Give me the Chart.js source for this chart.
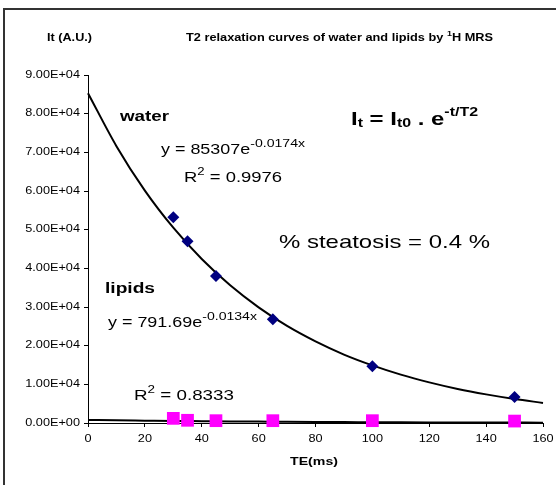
<!DOCTYPE html>
<html>
<head>
<meta charset="utf-8">
<script src="https://cdn.jsdelivr.net/npm/chart.js@4/dist/chart.umd.min.js"></script>
<style>
html,body{margin:0;padding:0;background:#fff;}
#wrap{width:556px;height:485px;position:relative;}
</style>
</head>
<body>
<div id="wrap"><canvas id="c" width="556" height="485"></canvas></div>
<script>
// ---- data ----
const waterTE = [30, 35, 45, 65, 100, 150];
const waterIt = [53200, 47000, 38000, 26800, 14700, 6700];
const lipidTE = [30, 35, 45, 65, 100, 150];
const lipidIt = [1200, 700, 600, 600, 600, 500];
// trend lines
const trendTE = [0, 10, 20, 30, 40, 50, 60, 70, 80, 90, 100, 110, 120, 130, 140, 150, 160];
const waterTrend = [85300, 71600, 60100, 50500, 42400, 35600, 29900, 25100, 21100, 17700, 14900, 12500, 10500, 8800, 7400, 6200, 5200];
const lipidTrend = [790, 690, 610, 530, 470, 410, 360, 310, 270, 240, 210, 180, 160, 140, 120, 110, 90];
const xTicks = [0, 20, 40, 60, 80, 100, 120, 140, 160];
const yTicks = [0, 10000, 20000, 30000, 40000, 50000, 60000, 70000, 80000, 90000];

const FONT = "Arial, 'Liberation Sans', sans-serif";
const SX = 1.27; // horizontal widening of the reference's text
const pts = (xs, ys) => xs.map((x, i) => ({x: x, y: ys[i]}));

function fmtE(v) {
  if (v === 0) return '0.00E+00';
  const e = Math.floor(Math.log10(Math.abs(v)) + 1e-9);
  const m = v / Math.pow(10, e);
  return m.toFixed(2) + 'E+' + String(e).padStart(2, '0');
}

// rich text: parts = [text, size, bold, dy]; widened horizontally to a target width
function rich(ctx, x, y, parts, targetW, center) {
  ctx.save();
  ctx.textBaseline = 'middle';
  ctx.textAlign = 'left';
  let w0 = 0;
  const ws = parts.map(p => {
    ctx.font = (p[2] ? 'bold ' : '') + p[1] + 'px ' + FONT;
    const w = ctx.measureText(p[0]).width;
    w0 += w;
    return w;
  });
  const s = targetW ? targetW / w0 : SX;
  ctx.translate(center ? x - w0 * s / 2 : x, y);
  ctx.scale(s, 1);
  let cx = 0;
  parts.forEach((p, i) => {
    ctx.font = (p[2] ? 'bold ' : '') + p[1] + 'px ' + FONT;
    ctx.fillText(p[0], cx, p[3] || 0);
    cx += ws[i];
  });
  ctx.restore();
}

// widen the library's tick labels around their own anchor
function widenLabels(scale) {
  if (scale._widened) return;
  scale._widened = true;
  const orig = scale.drawLabels.bind(scale);
  scale.drawLabels = function (area) {
    const ctx = this.ctx;
    const rot = ctx.rotate;
    ctx.rotate = function (a) { rot.call(this, a); this.scale(SX, 1); };
    try { orig(area); } finally { delete ctx.rotate; }
  };
}

const deco = {
  id: 'deco',
  beforeDraw(chart) {
    widenLabels(chart.scales.x);
    widenLabels(chart.scales.y);
    const ctx = chart.ctx;
    ctx.save();
    ctx.fillStyle = '#fff';
    ctx.fillRect(0, 0, chart.width, chart.height);
    ctx.strokeStyle = '#333';
    ctx.lineWidth = 2;
    ctx.strokeRect(4, 9, 600, 600);
    ctx.restore();
  },
  afterDraw(chart) {
    const ctx = chart.ctx;
    ctx.save();
    ctx.fillStyle = '#000';
    rich(ctx, 47, 38, [['It (A.U.)', 10, true]], 45);
    rich(ctx, 186, 38, [['T2 relaxation curves of water and lipids by ', 10, true], ['1', 7, true, -4], ['H MRS', 10, true]], 307);
    rich(ctx, 120, 117, [['water', 14.5, true]], 49);
    rich(ctx, 161, 150, [['y = 85307e', 14, false], ['-0.0174x', 11, false, -6]], 144);
    rich(ctx, 184, 178, [['R', 14, false], ['2', 10, false, -6], [' = 0.9976', 14, false]], 98);
    rich(ctx, 351, 120, [['I', 18, true], ['t', 12, true, 4], [' = I', 18, true], ['t0', 12, true, 4], [' . e', 18, true], ['-t/T2', 12, true, -7]], 127);
    rich(ctx, 279, 243, [['% steatosis = 0.4 %', 19, false]], 211);
    rich(ctx, 105, 289, [['lipids', 14.5, true]], 50);
    rich(ctx, 108, 323, [['y = 791.69e', 14, false], ['-0.0134x', 11, false, -6]], 149);
    rich(ctx, 134, 396, [['R', 14, false], ['2', 10, false, -6], [' = 0.8333', 14, false]], 100);
    rich(ctx, 314, 462, [['TE(ms)', 11, true]], 48, true);
    ctx.restore();
  }
};

new Chart(document.getElementById('c'), {
  type: 'scatter',
  data: {
    datasets: [
      {label: 'water fit', data: pts(trendTE, waterTrend), showLine: true, borderColor: '#000', borderWidth: 2, pointRadius: 0, cubicInterpolationMode: 'monotone', clip: false, order: 3},
      {label: 'lipids fit', data: pts(trendTE, lipidTrend), showLine: true, borderColor: '#000', borderWidth: 2, pointRadius: 0, cubicInterpolationMode: 'monotone', clip: false, order: 4},
      {label: 'water', data: pts(waterTE, waterIt), pointStyle: 'rectRot', pointRadius: 6, backgroundColor: '#000080', borderColor: '#000080', borderWidth: 0, clip: false, order: 1},
      {label: 'lipids', data: pts(lipidTE, lipidIt), pointStyle: 'rect', pointRadius: 9, backgroundColor: '#ff00ff', borderColor: '#ff00ff', borderWidth: 0, clip: false, order: 2}
    ]
  },
  options: {
    responsive: false,
    animation: false,
    devicePixelRatio: 1,
    layout: {padding: {left: 5, top: 75, right: 13, bottom: 22}},
    plugins: {legend: {display: false}, tooltip: {enabled: false}, title: {display: false}},
    scales: {
      x: {
        type: 'linear', min: 0, max: 160,
        afterBuildTicks: s => { s.ticks = xTicks.map(v => ({value: v})); },
        afterFit: s => { s.height = 40; s.paddingLeft = 0; s.paddingRight = 0; },
        grid: {display: true, drawOnChartArea: false, drawTicks: true, tickLength: 4, color: '#000', lineWidth: 1},
        border: {display: true, color: '#000', width: 1},
        ticks: {color: '#000', font: {family: FONT, size: 10}, padding: 6, maxRotation: 0, autoSkip: false}
      },
      y: {
        type: 'linear', min: 0, max: 90000,
        afterBuildTicks: s => { s.ticks = yTicks.map(v => ({value: v})); },
        afterFit: s => { s.width = 83; s.paddingTop = 0; s.paddingBottom = 0; },
        grid: {display: true, drawOnChartArea: false, drawTicks: true, tickLength: 4, color: '#000', lineWidth: 1},
        border: {display: true, color: '#000', width: 1},
        ticks: {color: '#000', font: {family: FONT, size: 10}, padding: 4, autoSkip: false, callback: v => fmtE(v)}
      }
    }
  },
  plugins: [deco]
});
</script>
</body>
</html>
